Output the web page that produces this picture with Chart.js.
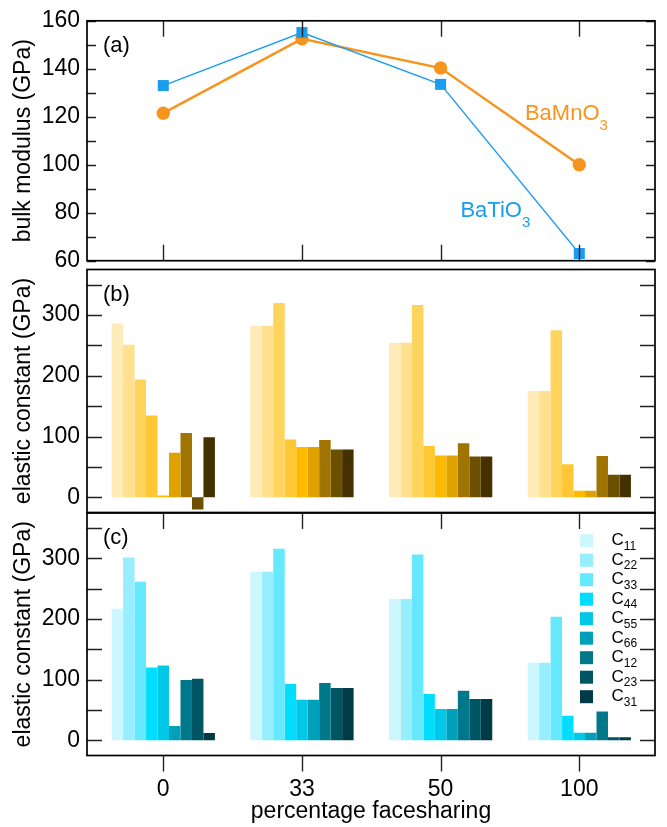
<!DOCTYPE html>
<html><head><meta charset="utf-8">
<script src="https://cdn.jsdelivr.net/npm/chart.js@4.4.1/dist/chart.umd.min.js"></script>
<style>
html,body{margin:0;padding:0;background:#fff;}
#wrap{position:relative;width:667px;height:827px;background:#fff;}
#wrap canvas{position:absolute;left:0;top:0;}
</style></head><body>
<div id="wrap">
<canvas id="ca" width="667" height="827"></canvas>
<canvas id="cb" width="667" height="827"></canvas>
<canvas id="cc" width="667" height="827"></canvas>
</div>
<script>
// ---------------- data ----------------
const categories = ['0', '33', '50', '100'];
const bulkBaTiO3 = [133, 155.1, 133.5, 63];
const bulkBaMnO3 = [121.5, 152.5, 140.3, 100];
const constNames = ['C11', 'C22', 'C33', 'C44', 'C55', 'C66', 'C12', 'C23', 'C31'];
// panel (b): elastic constants per facesharing percentage (order = constNames)
const elasticB_0   = [286, 251, 194, 134.5, 3, 73.5, 106, -20, 99];
const elasticB_33  = [282.5, 282.5, 320, 95, 83, 83, 94.5, 78.5, 78.5];
const elasticB_50  = [254.5, 254.5, 316.5, 84.5, 69, 69, 89, 67, 67];
const elasticB_100 = [175, 175, 275, 54.5, 11, 11, 68, 37, 37];
// panel (c)
const elasticC_0   = [217, 301.5, 261.5, 120, 123.5, 23.5, 99.5, 101.5, 12];
const elasticC_33  = [278, 278, 316, 93, 67, 67, 94.5, 86.5, 86.5];
const elasticC_50  = [233, 233, 306.5, 76.5, 51.5, 51.5, 82, 68, 68];
const elasticC_100 = [128, 128, 204, 40.5, 12.5, 12.5, 47.5, 5, 5];
const bulkTicks = [60, 70, 80, 90, 100, 110, 120, 130, 140, 150, 160];
const elasticTicks = [0, 50, 100, 150, 200, 250, 300, 350];

// ---------------- styles ----------------
const FONT = '"Liberation Sans", Arial, Helvetica, sans-serif';
const FS = 23;
const ORANGE = '#f7941e';
const BLUE = '#1a9cef';
const colorsB = ['#ffebb8', '#ffe08f', '#ffd45c', '#ffc733', '#ffb900', '#e0a200', '#a07400', '#6d4f00', '#453000'];
const colorsC = ['#cdf7ff', '#96eeff', '#66e8ff', '#00ddff', '#00c8e6', '#00a0b9', '#00788c', '#005564', '#003c48'];

function subText(ctx, main, sub, x, y, size, subSize, drop, color) {
  ctx.fillStyle = color;
  ctx.textAlign = 'left';
  ctx.textBaseline = 'alphabetic';
  ctx.font = size + 'px ' + FONT;
  ctx.fillText(main, x, y);
  const w = ctx.measureText(main).width;
  ctx.font = subSize + 'px ' + FONT;
  ctx.fillText(sub, x + w, y + drop);
}

const framePlugin = {
  id: 'frame',
  afterDraw(chart, args, o) {
    const {ctx, chartArea: a, scales} = chart;
    const xs = scales.x, ys = scales.y;
    ctx.save();
    ctx.strokeStyle = '#222';
    ctx.lineWidth = 1.4;
    ctx.beginPath();
    o.yTicks.forEach(v => {
      const y = Math.round(ys.getPixelForValue(v)) + 0.5;
      ctx.moveTo(a.left, y); ctx.lineTo(a.left + o.yLen, y);
      ctx.moveTo(a.right, y); ctx.lineTo(a.right - o.yLen, y);
    });
    categories.forEach((c, i) => {
      const x = Math.round(xs.getPixelForValue(i)) + 0.5;
      if (o.top) { ctx.moveTo(x, a.top); ctx.lineTo(x, a.top + o.xLen); }
      if (o.bottom === 'in') { ctx.moveTo(x, a.bottom); ctx.lineTo(x, a.bottom - o.xLen); }
      if (o.bottom === 'out') { ctx.moveTo(x, a.bottom); ctx.lineTo(x, a.bottom + o.xLen); }
    });
    ctx.stroke();
    ctx.strokeStyle = '#000';
    ctx.lineWidth = 1.7;
    ctx.strokeRect(a.left, a.top, a.right - a.left, a.bottom - a.top);
    // panel label
    ctx.fillStyle = '#000';
    ctx.font = '22px ' + FONT;
    ctx.textAlign = 'left';
    ctx.textBaseline = 'alphabetic';
    ctx.fillText(o.panel, a.left + 16, a.top + 31);
    // extra annotations
    (o.notes || []).forEach(n => {
      subText(ctx, n.main, n.sub, xs.getPixelForValue(n.x), ys.getPixelForValue(n.y), 22, 15, 10, n.color);
    });
    // legend
    if (o.legend) {
      chart.data.datasets.forEach((ds, i) => {
        const cy = a.top + 27.7 + i * 19.5;
        ctx.fillStyle = ds.backgroundColor;
        ctx.fillRect(a.right - 75, cy - 6.5, 13, 13);
        subText(ctx, ds.label.charAt(0), ds.label.slice(1), a.right - 43.5, cy + 4.5, 17, 12, 4.5, '#000');
      });
    }
    ctx.restore();
  }
};

function xScale(show) {
  return {
    type: 'linear', min: -0.55, max: 3.546, display: show, offset: false,
    afterBuildTicks: s => { s.ticks = categories.map((c, i) => ({value: i})); },
    ticks: {callback: v => categories[v] !== undefined ? categories[v] : '', autoSkip: false, maxRotation: 0,
            padding: 20, color: '#000', font: {family: FONT, size: FS}},
    grid: {display: false, drawTicks: false, offset: false}, border: {display: false},
    title: {display: show, text: 'percentage facesharing', color: '#000', font: {family: FONT, size: FS},
            padding: {top: 0, bottom: 1.2}},
    afterFit: s => { if (show) s.height = 71.5; }
  };
}
function yScale(min, max, tickVals, every, title) {
  return {
    type: 'linear', min: min, max: max,
    afterBuildTicks: s => { s.ticks = tickVals.map(v => ({value: v})); },
    ticks: {callback: v => (v % every === 0 ? String(v) : ''), autoSkip: false, padding: 7,
            color: '#000', font: {family: FONT, size: FS}},
    grid: {display: false, drawTicks: false}, border: {display: false},
    title: {display: true, text: title, color: '#000', font: {family: FONT, size: FS}, padding: {top: 9.5, bottom: 0}},
    afterFit: s => { s.width = 87; }
  };
}
const base = {responsive: false, animation: false, devicePixelRatio: 1, events: []};

// ---------------- panel (a) ----------------
new Chart(document.getElementById('ca'), {
  type: 'line',
  data: {datasets: [
    {label: 'BaTiO3', data: bulkBaTiO3.map((v, i) => ({x: i, y: v})), borderColor: BLUE, backgroundColor: BLUE,
     borderWidth: 1.3, pointStyle: 'rect', pointRadius: 7.8, pointBorderWidth: 0, tension: 0, clip: false},
    {label: 'BaMnO3', data: bulkBaMnO3.map((v, i) => ({x: i, y: v})), borderColor: ORANGE, backgroundColor: ORANGE,
     borderWidth: 2.5, pointStyle: 'circle', pointRadius: 6.7, pointBorderWidth: 0, tension: 0, clip: false}
  ]},
  options: Object.assign({}, base, {
    layout: {padding: {top: 17.3, bottom: 566.3, left: 0, right: 12}},
    scales: {x: xScale(false), y: yScale(60, 160, bulkTicks, 20, 'bulk modulus (GPa)')},
    plugins: {legend: {display: false}, tooltip: {enabled: false},
      frame: {panel: '(a)', yTicks: bulkTicks, yLen: 9, xLen: 16, top: true, bottom: 'in',
        notes: [{main: 'BaMnO', sub: '3', x: 2.608, y: 118.5, color: ORANGE},
                {main: 'BaTiO', sub: '3', x: 2.143, y: 78.1, color: BLUE}]}}
  }),
  plugins: [framePlugin]
});

// ---------------- bar panels ----------------
function barDatasets(rows, colors) {
  return constNames.map((name, k) => ({
    label: name,
    data: rows.map((r, i) => ({x: i, y: r[k]})),
    backgroundColor: colors[k], borderWidth: 0,
    categoryPercentage: 0.745, barPercentage: 1.0
  }));
}
function barChart(id, rows, colors, pad, showX, panel, legend) {
  new Chart(document.getElementById(id), {
    type: 'bar',
    data: {datasets: barDatasets(rows, colors)},
    options: Object.assign({}, base, {
      layout: {padding: pad},
      scales: {x: xScale(showX), y: yScale(-25, 375, elasticTicks, 100, 'elastic constant (GPa)')},
      plugins: {legend: {display: false}, tooltip: {enabled: false},
        frame: {panel: panel, yTicks: elasticTicks, yLen: 15, xLen: 16, top: showX, bottom: showX ? 'out' : null, legend: legend}}
    }),
    plugins: [framePlugin]
  });
}
barChart('cb', [elasticB_0, elasticB_33, elasticB_50, elasticB_100], colorsB,
  {top: 269.5, bottom: 314.5, left: 0, right: 12}, false, '(b)', false);
barChart('cc', [elasticC_0, elasticC_33, elasticC_50, elasticC_100], colorsC,
  {top: 513, bottom: 0, left: 0, right: 12}, true, '(c)', true);
</script>
</body></html>
